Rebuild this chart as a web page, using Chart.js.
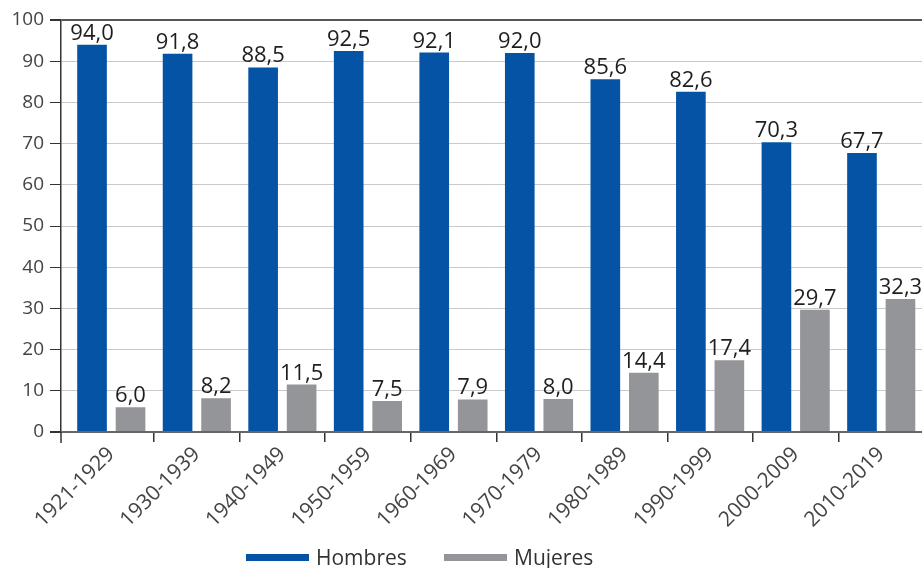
<!DOCTYPE html>
<html>
<head>
<meta charset="utf-8">
<script src="https://cdn.jsdelivr.net/npm/chart.js@4/dist/chart.umd.min.js"></script>
<style>
    html, body { margin: 0; padding: 0; background: #fff; }
    #zone { width: 922px; height: 568px; }
</style>
</head>
<body>
<div id="zone"><canvas id="graphique"></canvas></div>
<script>
    let decennies = ['1921-1929', '1930-1939', '1940-1949', '1950-1959', '1960-1969',
        '1970-1979', '1980-1989', '1990-1999', '2000-2009', '2010-2019'];
    let hombres = [94.0, 91.8, 88.5, 92.5, 92.1, 92.0, 85.6, 82.6, 70.3, 67.7];
    let mujeres = [6.0, 8.2, 11.5, 7.5, 7.9, 8.0, 14.4, 17.4, 29.7, 32.3];
    let graduations = [0, 10, 20, 30, 40, 50, 60, 70, 80, 90, 100];

    let police = "'Open Sans', 'Noto Sans', sans-serif";
    let bleu = '#0453a5';
    let gris = '#939598';

    Chart.defaults.font.family = police;
    Chart.defaults.color = '#444';

    function format(v) {
        return v.toFixed(1).replace('.', ',');
    }

    // l'axe des catégories commence un peu après l'axe vertical
    let decalage = {
        id: 'decalage',
        afterLayout(chart) {
            let x = chart.scales.x;
            x.left = chart.chartArea.left + 7.5;
            x.right = chart.chartArea.right + 2;
            x.width = x.right - x.left;
            x.configure();
        }
    };

    // valeurs au-dessus de chaque barre + prolongement de l'axe vertical
    let etiquettes = {
        id: 'etiquettes',
        afterDatasetsDraw(chart) {
            let ctx = chart.ctx;
            ctx.save();
            ctx.font = '22px ' + police;
            ctx.fillStyle = '#1e1e1e';
            ctx.textAlign = 'center';
            ctx.textBaseline = 'alphabetic';
            chart.data.datasets.forEach((ds, i) => {
                chart.getDatasetMeta(i).data.forEach((barre, j) => {
                    ctx.fillText(format(ds.data[j]), barre.x, barre.y - 5);
                });
            });
            let zone = chart.chartArea;
            ctx.strokeStyle = '#333';
            ctx.lineWidth = 1.5;
            ctx.beginPath();
            ctx.moveTo(zone.left, zone.bottom);
            ctx.lineTo(zone.left, zone.bottom + 11);
            ctx.stroke();
            ctx.restore();
        }
    };

    // légende dessinée en bas
    let legende = {
        id: 'legende',
        afterDraw(chart) {
            let ctx = chart.ctx;
            let positions = [246, 444];
            ctx.save();
            ctx.font = '21px ' + police;
            ctx.textBaseline = 'alphabetic';
            chart.data.datasets.forEach((ds, i) => {
                let x = positions[i];
                ctx.fillStyle = ds.backgroundColor;
                ctx.fillRect(x, 554, 63, 7);
                ctx.fillStyle = '#333';
                ctx.fillText(ds.label, x + 70, 565);
            });
            ctx.restore();
        }
    };

    let ctx = document.getElementById('graphique').getContext('2d');
    let graphique = new Chart(ctx, {
        type: 'bar',
        data: {
            labels: decennies,
            datasets: [{
                label: 'Hombres',
                data: hombres,
                backgroundColor: bleu,
                categoryPercentage: 0.9,
                barPercentage: 0.77
            }, {
                label: 'Mujeres',
                data: mujeres,
                backgroundColor: gris,
                categoryPercentage: 0.9,
                barPercentage: 0.77
            }]
        },
        options: {
            responsive: true,
            maintainAspectRatio: false,
            animation: false,
            layout: { padding: { top: 20, right: 0, bottom: 0, left: 0 } },
            plugins: {
                legend: { display: false },
                tooltip: { enabled: false }
            },
            scales: {
                x: {
                    grid: {
                        offset: true,
                        drawOnChartArea: false,
                        color: c => c.index === 0 ? 'rgba(0,0,0,0)' : '#333',
                        tickLength: 10,
                        lineWidth: 1.5
                    },
                    border: { color: '#666', width: 2 },
                    ticks: {
                        font: { size: 21 },
                        color: '#444',
                        minRotation: 45,
                        maxRotation: 45,
                        padding: 0
                    },
                    afterFit(scale) { scale.height = 136; }
                },
                y: {
                    min: 0,
                    max: 100,
                    afterBuildTicks(scale) {
                        scale.ticks = graduations.map(v => ({ value: v }));
                    },
                    grid: {
                        color: c => {
                            if (!c.tick) return '#cacaca';
                            if (c.tick.value === 100) return '#555';
                            if (c.tick.value === 0) return '#666';
                            return '#cacaca';
                        },
                        lineWidth: c => c.tick && (c.tick.value === 100 || c.tick.value === 0) ? 2 : 1,
                        tickColor: '#333',
                        tickLength: 11
                    },
                    border: { color: '#333', width: 1.5 },
                    ticks: {
                        font: { size: 19 },
                        color: '#444',
                        padding: 6
                    },
                    afterFit(scale) { scale.width = 61; }
                }
            }
        },
        plugins: [decalage, etiquettes, legende]
    });
</script>
</body>
</html>
